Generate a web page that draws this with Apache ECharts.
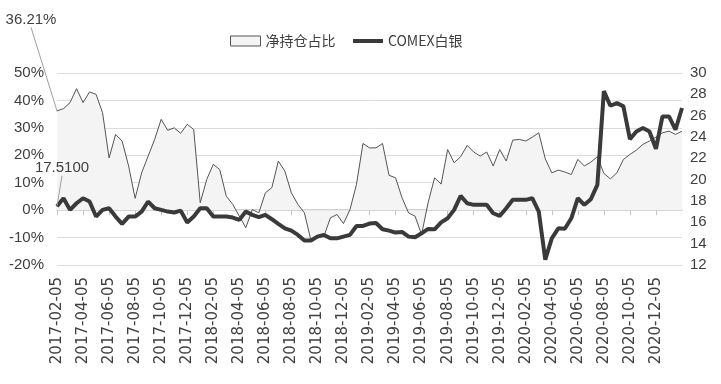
<!DOCTYPE html>
<html>
<head>
<meta charset="utf-8">
<script src="https://cdn.jsdelivr.net/npm/echarts@6/dist/echarts.min.js"></script>
<style>
html,body{margin:0;padding:0;background:#fff;}
#chart{width:721px;height:384px;}
</style>
</head>
<body>
<div id="chart"></div>
<script>
// Half-monthly dates (05 and 20 of each month), 2017-02-05 .. 2021-02-05
const categories = [];
for (let y = 2017; y <= 2021; y++) {
  for (let m = 1; m <= 12; m++) {
    if (y === 2017 && m < 2) continue;
    const mm = (m < 10 ? '0' : '') + m;
    categories.push(y + '-' + mm + '-05');
    if (y === 2021 && m === 2) break;
    categories.push(y + '-' + mm + '-20');
  }
  if (y === 2021) break;
}
const seriesNames = ['净持仓占比', 'COMEX白银'];

// 净持仓占比 (%)
const netPositionRatio = [
  36.21, 37.0, 39.2, 44.3, 39.2, 43.1, 42.2, 35.5, 19.0, 27.6,
  25.2, 16.1, 4.3, 13.6, 19.7, 25.8, 33.1, 29.1, 30.0, 28.0,
  31.3, 29.4, 2.7, 11.2, 16.7, 14.8, 5.1, 2.1, -2.2, -6.4,
  0.2, -1.0, 6.3, 8.2, 17.9, 14.2, 6.3, 2.1, -1.0, -11.0,
  -10.1, -9.5, -2.8, -1.6, -4.9, 0.2, 9.4, 24.3, 22.7, 22.7,
  24.3, 12.7, 11.8, 4.5, -1.0, -2.2, -8.9, 2.7, 11.8, 9.5,
  22.1, 17.3, 19.5, 23.6, 21.2, 19.7, 21.2, 16.1, 22.1, 17.9,
  25.5, 25.8, 25.2, 26.6, 28.2, 18.7, 13.6, 14.6, 13.9, 13.0,
  18.5, 16.1, 17.5, 19.5, 13.4, 11.4, 13.6, 18.5, 20.3, 21.9,
  24.0, 25.2, 26.6, 28.2, 28.8, 27.6, 28.8
];

// COMEX白银 (USD/oz)
const comexSilver = [
  17.51, 18.26, 17.17, 17.79, 18.26, 17.95, 16.54, 17.17, 17.32, 16.54,
  15.85, 16.54, 16.54, 17.01, 17.95, 17.32, 17.17, 17.01, 16.92, 17.10,
  15.98, 16.54, 17.32, 17.32, 16.54, 16.54, 16.54, 16.45, 16.23, 17.01,
  16.70, 16.48, 16.70, 16.29, 15.85, 15.44, 15.22, 14.82, 14.29, 14.29,
  14.66, 14.82, 14.50, 14.50, 14.66, 14.82, 15.66, 15.66, 15.88, 15.94,
  15.35, 15.22, 15.04, 15.10, 14.66, 14.60, 14.97, 15.38, 15.35, 16.00,
  16.38, 17.17, 18.48, 17.79, 17.64, 17.64, 17.64, 16.85, 16.60, 17.32,
  18.11, 18.11, 18.11, 18.26, 17.01, 12.50, 14.50, 15.44, 15.40, 16.38,
  18.26, 17.64, 18.17, 19.51, 28.30, 26.93, 27.18, 26.87, 23.80, 24.52,
  24.84, 24.52, 22.90, 25.93, 25.93, 24.68, 26.72
];

const leftTicks = {min: -20, max: 50, interval: 10};
const rightTicks = {min: 12, max: 30, interval: 2};

const txt = '#404040';
const narrow = "'Liberation Sans Narrow', 'Liberation Sans', sans-serif";

function firstLabelled(arr, fmt) {
  return arr.map((v, i) => i === 0 ? {
    value: v,
    label: {show: true, formatter: fmt, position: 'top', color: txt,
            fontSize: 15, fontFamily: narrow}
  } : v);
}
const showIdx = (i) => i % 4 === 0 && i < categories.length - 1;
const firstOnly = (v, p) => (p && p.dataIndex === 0) ? 1 : 0;

const chart = echarts.init(document.getElementById('chart'), null, {renderer: 'canvas'});
chart.setOption({
  animation: false,
  backgroundColor: '#fff',
  grid: {left: 57, right: 39, top: 73, bottom: 119},
  legend: [
    {left: 225, top: 29, itemWidth: 30, itemHeight: 10, itemGap: 20,
     textStyle: {color: txt, fontSize: 14, fontFamily: "'Noto Sans CJK SC', sans-serif"},
     data: [{name: seriesNames[0], icon: 'rect',
             itemStyle: {color: '#f4f4f4', borderColor: '#555', borderWidth: 1}}]},
    {left: 348, top: 29, itemWidth: 30, itemHeight: 4,
     textStyle: {color: txt, fontSize: 14, fontFamily: "'Noto Sans CJK SC', sans-serif"},
     data: [{name: seriesNames[1], icon: 'rect', itemStyle: {color: '#3a3a3a'}}]}
  ],
  xAxis: [
    {type: 'category', data: categories, boundaryGap: false, position: 'bottom',
     axisLine: {show: true, onZero: true, onZeroAxisIndex: 0, lineStyle: {color: '#c4c4c4', width: 1.5}},
     axisTick: {show: true, length: 5, interval: showIdx, lineStyle: {color: '#c4c4c4'}},
     axisLabel: {show: false}, splitLine: {show: false}},
    {type: 'category', data: categories, boundaryGap: false, position: 'bottom',
     axisLine: {show: false, onZero: false}, axisTick: {show: false},
     axisLabel: {show: true, interval: showIdx, rotate: 90, margin: 12,
                 color: txt, fontSize: 15, fontFamily: "'DejaVu Sans', sans-serif"},
     splitLine: {show: false}}
  ],
  yAxis: [
    {type: 'value', min: leftTicks.min, max: leftTicks.max, interval: leftTicks.interval,
     axisLine: {show: false}, axisTick: {show: false},
     axisLabel: {formatter: '{value}%', color: txt, fontSize: 15, margin: 13, fontFamily: narrow},
     splitLine: {lineStyle: {color: '#dcdcdc', width: 1}}},
    {type: 'value', min: rightTicks.min, max: rightTicks.max, interval: rightTicks.interval,
     position: 'right',
     axisLine: {show: false}, axisTick: {show: false},
     axisLabel: {color: txt, fontSize: 15, margin: 8, fontFamily: narrow},
     splitLine: {show: false}}
  ],
  series: [
    {name: seriesNames[0], type: 'line', xAxisIndex: 0, yAxisIndex: 0,
     data: firstLabelled(netPositionRatio, (p) => p.value.toFixed(2) + '%'),
     symbol: 'circle', symbolSize: firstOnly, showSymbol: true, showAllSymbol: true,
     lineStyle: {color: '#555', width: 1},
     itemStyle: {color: '#555'},
     areaStyle: {color: '#f4f4f4', opacity: 1},
     labelLayout: {dx: -26, dy: -78},
     labelLine: {show: true, lineStyle: {color: '#a0a0a0', width: 1}},
     z: 2},
    {name: seriesNames[1], type: 'line', xAxisIndex: 0, yAxisIndex: 1,
     data: firstLabelled(comexSilver, (p) => p.value.toFixed(4)),
     symbol: 'circle', symbolSize: firstOnly, showSymbol: true, showAllSymbol: true,
     lineStyle: {color: '#3a3a3a', width: 4},
     itemStyle: {color: '#3a3a3a'},
     labelLayout: {dx: 5, dy: -25},
     labelLine: {show: true, lineStyle: {color: '#a0a0a0', width: 1}},
     z: 3}
  ]
});
</script>
</body>
</html>
